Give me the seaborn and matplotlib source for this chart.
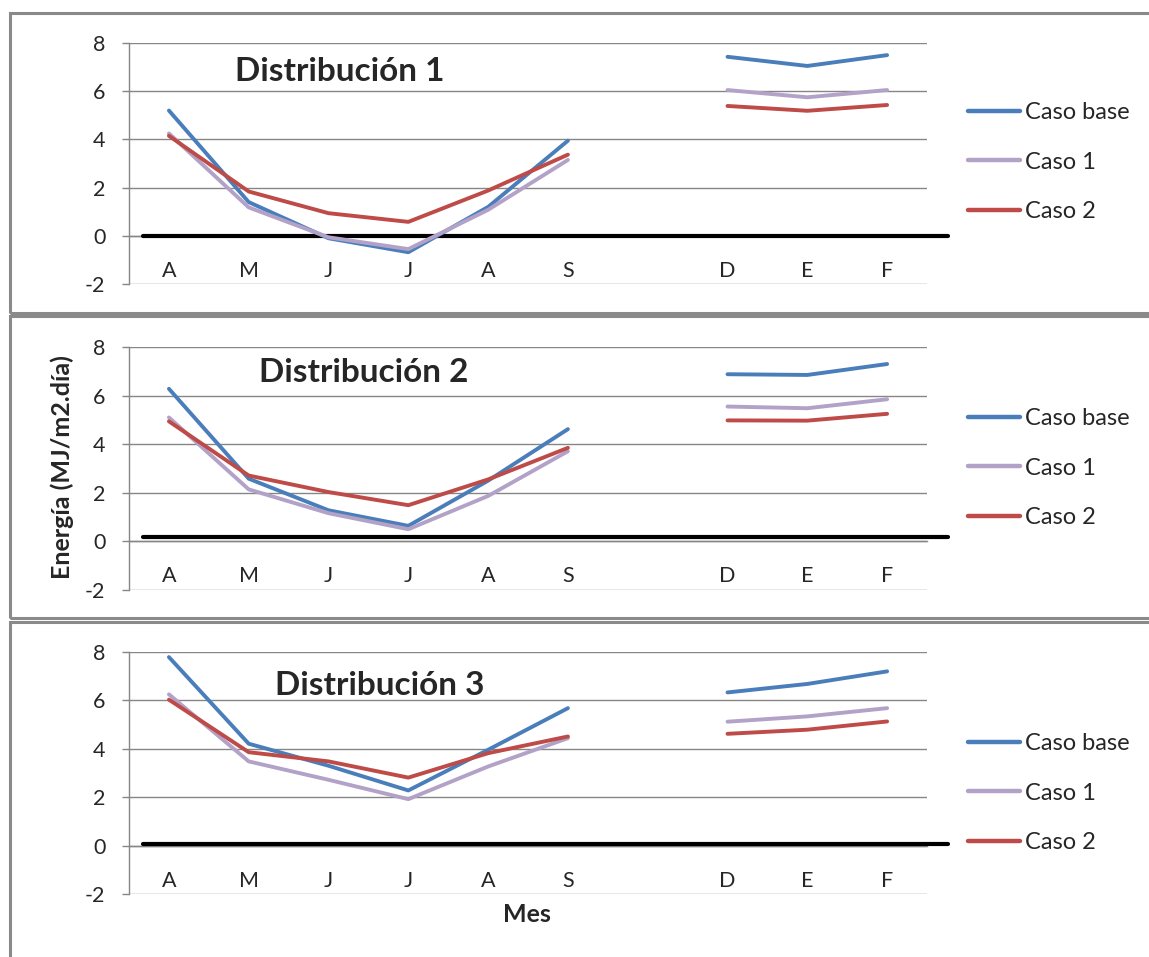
import pandas as pd
import matplotlib.pyplot as plt
import seaborn as sns
from matplotlib.lines import Line2D
from matplotlib.patches import Rectangle

# Meses (hueco entre S y D sin datos)
meses = ['A', 'M', 'J', 'J', 'A', 'S', '', 'D', 'E', 'F']
casos = ['Caso base', 'Caso 1', 'Caso 2']
colores = ['#4A7EBB', '#B3A2C7', '#BE4B48']

# Energía (MJ/m2.día) por distribución; None = sin dato
dist1_base = [5.2, 1.4, -0.1, -0.68, 1.2, 3.95, None, 7.43, 7.05, 7.5]
dist1_c1 = [4.25, 1.18, -0.06, -0.55, 1.08, 3.15, None, 6.05, 5.75, 6.05]
dist1_c2 = [4.15, 1.84, 0.94, 0.58, 1.88, 3.37, None, 5.39, 5.19, 5.43]

dist2_base = [6.28, 2.58, 1.28, 0.64, 2.5, 4.62, None, 6.88, 6.85, 7.3]
dist2_c1 = [5.1, 2.14, 1.16, 0.5, 1.87, 3.71, None, 5.55, 5.48, 5.85]
dist2_c2 = [4.94, 2.71, 2.03, 1.49, 2.55, 3.85, None, 4.98, 4.97, 5.25]

dist3_base = [7.79, 4.21, 3.3, 2.28, 3.96, 5.68, None, 6.33, 6.68, 7.2]
dist3_c1 = [6.25, 3.48, 2.72, 1.92, 3.27, 4.44, None, 5.12, 5.34, 5.68]
dist3_c2 = [6.03, 3.86, 3.48, 2.81, 3.82, 4.51, None, 4.62, 4.79, 5.13]

titulos = ['Distribución 1', 'Distribución 2', 'Distribución 3']
series = [[dist1_base, dist1_c1, dist1_c2],
          [dist2_base, dist2_c1, dist2_c2],
          [dist3_base, dist3_c1, dist3_c2]]
linea_negra = [0.0, 0.18, 0.07]   # línea de referencia dibujada a mano

sns.set_style('white')
plt.rcParams['font.family'] = ['Lato', 'DejaVu Sans']
plt.rcParams['axes.unicode_minus'] = False

fig = plt.figure(figsize=(11.49, 9.57), dpi=100)

# posiciones de los ejes (fracción de figura)
ejes_pos = [[0.1123, 0.7032, 0.6945, 0.2518],
            [0.1123, 0.3835, 0.6945, 0.2539],
            [0.1123, 0.0658, 0.6945, 0.2529]]
titulo_pos = [(0.264, 0.88), (0.294, 0.897), (0.3145, 0.86)]
leyenda_y = [0.506, 0.502, 0.417]
marcos = [(13, 313), (316, 618), (622, 980)]
gris = '#868686'

for top, bottom in marcos:
    fig.patches.append(Rectangle((10 / 1149, 1 - bottom / 957), 1.2,
                                 (bottom - top) / 957, transform=fig.transFigure,
                                 fill=False, edgecolor='#8a8a8a', lw=2.2))

for i in range(3):
    ax = fig.add_axes(ejes_pos[i])
    filas = []
    for caso, vals in zip(casos, series[i]):
        for pos, v in enumerate(vals):
            if v is None:
                continue
            filas.append({'pos': pos, 'valor': v, 'caso': caso,
                          'tramo': 0 if pos < 6 else 1})
    df = pd.DataFrame(filas)
    sns.lineplot(data=df, x='pos', y='valor', hue='caso', units='tramo',
                 estimator=None, palette=colores, hue_order=casos, lw=2.8,
                 legend=False, ax=ax, zorder=4)

    ax.set_xlim(-0.5, 9.5)
    ax.set_ylim(-2, 8)
    ax.set_yticks([-2, 0, 2, 4, 6, 8])
    ax.grid(axis='y', color=gris, lw=1.0)
    ax.set_axisbelow(True)
    for s in ['top', 'right']:
        ax.spines[s].set_visible(False)
    ax.spines['left'].set_color(gris)
    ax.spines['left'].set_linewidth(1.0)
    ax.spines['bottom'].set_position(('data', 0))
    ax.spines['bottom'].set_color(gris)
    ax.spines['bottom'].set_linewidth(1.0)

    ax.set_xticks(range(len(meses)))
    ax.set_xticklabels(meses)
    ax.set_xticks([p + 0.5 for p in range(len(meses))], minor=True)
    ax.tick_params(axis='x', which='major', length=0, pad=18, labelsize=15.5)
    ax.tick_params(axis='x', which='minor', direction='out', length=6,
                   color=gris, width=1.0)
    ax.tick_params(axis='y', direction='out', length=5, color=gris, width=1.0,
                   pad=12, labelsize=15.5, left=True)
    ax.set_xlabel('')
    ax.set_ylabel('')

    ax.axhline(linea_negra[i], xmin=0.0175, xmax=1.026, color='black',
               lw=3.0, clip_on=False, zorder=3)

    ax.text(titulo_pos[i][0], titulo_pos[i][1], titulos[i], transform=ax.transAxes,
            ha='center', va='center', fontsize=24, fontweight='bold')

    handles = [Line2D([], [], color=c, lw=3.2) for c in colores]
    ax.legend(handles, casos, loc='center left',
              bbox_to_anchor=(1.04, leyenda_y[i]), frameon=False,
              fontsize=17, handlelength=2.2, handletextpad=0.2,
              labelspacing=1.2, borderaxespad=0)

fig.text(0.054, 0.512, 'Energía (MJ/m2.día)', rotation=90, ha='center',
         va='center', fontsize=18, fontweight='bold')
fig.text(0.4587, 0.0439, 'Mes', ha='center', va='center', fontsize=18,
         fontweight='bold')

fig.savefig('out.png', dpi=100)
